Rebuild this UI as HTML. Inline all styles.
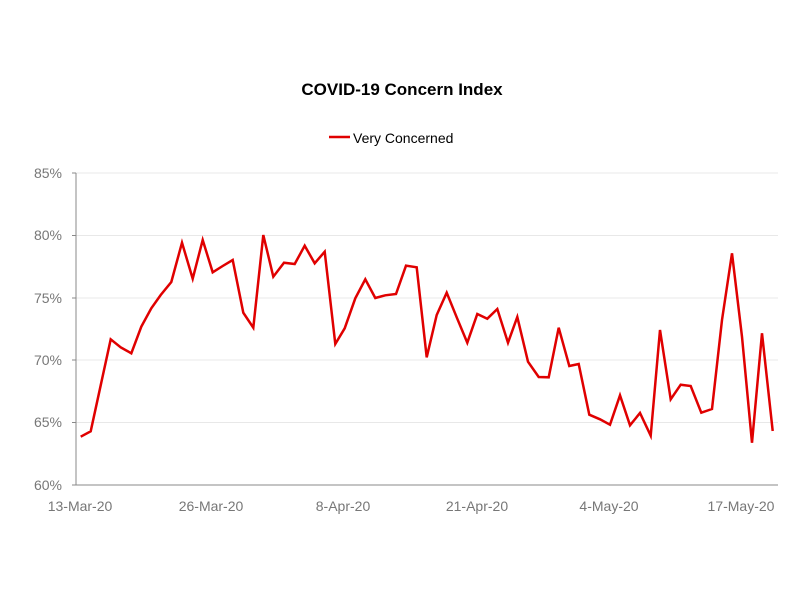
<!DOCTYPE html>
<html><head><meta charset="utf-8"><style>
body{margin:0;background:#fff;}
text{font-family:"Liberation Sans",Calibri,sans-serif;}
</style></head><body>
<svg width="800" height="600" xmlns="http://www.w3.org/2000/svg">
<rect width="800" height="600" fill="#fff"/>
<text x="402" y="95" font-size="17" font-weight="bold" text-anchor="middle" fill="#000">COVID-19 Concern Index</text>
<line x1="329" y1="137" x2="350" y2="137" stroke="#e00000" stroke-width="2.5"/>
<text x="353" y="143" font-size="14" fill="#000">Very Concerned</text>
<g stroke="#e8e8e8" stroke-width="1">
<line x1="76" y1="173" x2="778" y2="173"/>
<line x1="76" y1="235.5" x2="778" y2="235.5"/>
<line x1="76" y1="298" x2="778" y2="298"/>
<line x1="76" y1="360" x2="778" y2="360"/>
<line x1="76" y1="422.5" x2="778" y2="422.5"/>
</g>
<line x1="76" y1="173" x2="76" y2="485" stroke="#888"/>
<line x1="76" y1="485" x2="778" y2="485" stroke="#888"/>
<g stroke="#888"><line x1="72" y1="173" x2="76" y2="173"/><line x1="72" y1="235.5" x2="76" y2="235.5"/><line x1="72" y1="298" x2="76" y2="298"/><line x1="72" y1="360" x2="76" y2="360"/><line x1="72" y1="422.5" x2="76" y2="422.5"/><line x1="72" y1="485" x2="76" y2="485"/></g>
<g font-size="14" fill="#777" text-anchor="end">
<text x="62" y="178">85%</text><text x="62" y="240">80%</text><text x="62" y="303">75%</text><text x="62" y="365">70%</text><text x="62" y="427">65%</text><text x="62" y="490">60%</text>
</g>
<g font-size="14" fill="#777" text-anchor="middle">
<text x="80" y="511">13-Mar-20</text><text x="211" y="511">26-Mar-20</text><text x="343" y="511">8-Apr-20</text><text x="477" y="511">21-Apr-20</text><text x="609" y="511">4-May-20</text><text x="741" y="511">17-May-20</text>
</g>
<polyline id="ln" fill="none" stroke="#e00000" stroke-width="2.5" stroke-linejoin="miter" points=""/>
</svg>
<script>
var a=[[62,650],[92,634],[122,496],[152,358],[182,382],[214,400],[244,320],[274,265],[302,225],[334,186],[366,68],[398,176],[428,60],[458,157],[488,138],[518,120],[550,278],[580,323],[610,45],[640,170],[672,128],[704,132],[734,77],[764,130],[794,95],[826,372],[854,325],[886,235],[916,178],[946,234],[976,226],[1008,222],[1038,137],[1070,142],[1100,412],[1130,285]];
var b=[[80,158],[110,232],[142,308],[172,222],[202,236],[232,207],[264,308],[292,231],[324,365],[356,411],[386,412],[416,263],[448,378],[476,372],[508,524],[540,538],[570,554],[600,466],[630,556],[660,519],[692,587],[720,270],[752,478],[782,434],[812,438],[844,518],[876,507],[906,240],[936,40],[966,290],[996,608],[1026,280],[1058,573]];
var p=[];a.forEach(function(q){p.push((60+q[0]/3).toFixed(1)+","+(220+q[1]/3).toFixed(1));});
b.forEach(function(q){p.push((420+q[0]/3).toFixed(1)+","+(240+q[1]/3).toFixed(1));});
document.getElementById("ln").setAttribute("points",p.join(" "));
</script>
</body></html>
